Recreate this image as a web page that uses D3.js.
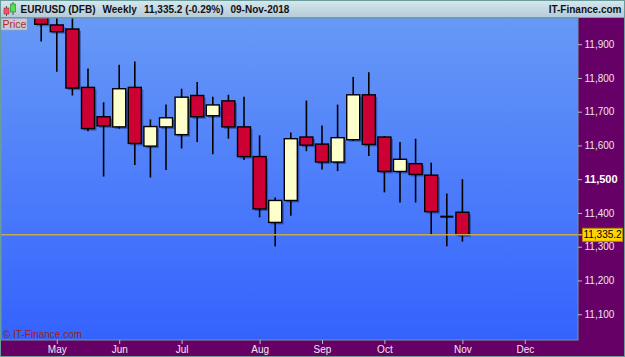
<!DOCTYPE html>
<html><head><meta charset="utf-8">
<script src="https://cdn.jsdelivr.net/npm/d3@7"></script>
<style>
html,body{margin:0;padding:0;background:#660066;}
svg{display:block;font-family:"Liberation Sans",Arial,sans-serif;}
</style></head>
<body>
<svg id="chart" width="625" height="357"></svg>
<script>
// ---- data ----
const weeks = ["2018-04-30","2018-05-07","2018-05-14","2018-05-21","2018-05-28","2018-06-04","2018-06-11","2018-06-18","2018-06-25","2018-07-02","2018-07-09","2018-07-16","2018-07-23","2018-07-30","2018-08-06","2018-08-13","2018-08-20","2018-08-27","2018-09-03","2018-09-10","2018-09-17","2018-09-24","2018-10-01","2018-10-08","2018-10-15","2018-10-22","2018-10-29","2018-11-05"];
const openV  = [11985,11957,11945,11772,11685,11655,11772,11598,11655,11632,11748,11688,11732,11655,11567,11372,11437,11625,11604,11551,11617,11750,11625,11523,11546,11512,11389,11402];
const highV  = [12000,11990,11995,11828,11728,11839,11849,11677,11721,11768,11788,11744,11750,11744,11630,11446,11638,11733,11659,11721,11803,11817,11628,11610,11620,11549,11458,11500];
const lowV   = [11908,11818,11748,11642,11508,11650,11542,11505,11527,11591,11610,11574,11620,11557,11387,11301,11392,11583,11529,11524,11614,11569,11461,11431,11431,11337,11301,11315];
const closeV = [11959,11937,11770,11650,11658,11768,11606,11656,11682,11743,11685,11720,11655,11567,11412,11437,11620,11601,11551,11623,11750,11603,11523,11559,11514,11404,11389,11335.2];
const yTicks = [11100,11200,11300,11400,11500,11600,11700,11800,11900];
const monthLabels = ["May","Jun","Jul","Aug","Sep","Oct","Nov","Dec"];
const lastPrice = 11335.2;
const headerParts = [["EUR/USD (DFB)",20.5],["Weekly",102.5],["11,335.2 (-0.29%)",144],["09-Nov-2018",230.5]];

// ---- layout ----
const L = 1, R = 578, T = 18, B = 340;
const svg = d3.select("#chart");
const defs = svg.append("defs");
const hg = defs.append("linearGradient").attr("id","hg").attr("x1",0).attr("y1",0).attr("x2",0).attr("y2",1);
hg.append("stop").attr("offset","0%").attr("stop-color","#d6e8ef");
hg.append("stop").attr("offset","100%").attr("stop-color","#b4cad6");
const pg = defs.append("linearGradient").attr("id","pg").attr("x1",0).attr("y1",0).attr("x2",0).attr("y2",1);
pg.append("stop").attr("offset","0%").attr("stop-color","#6799f6");
pg.append("stop").attr("offset","100%").attr("stop-color","#3462fe");
defs.append("clipPath").attr("id","clip").append("rect").attr("x",L).attr("y",T).attr("width",R-L).attr("height",B-T);

// background
svg.append("rect").attr("width",625).attr("height",357).attr("fill","#660066");
svg.append("rect").attr("x",0).attr("y",0).attr("width",625).attr("height",T).attr("fill","url(#hg)");
svg.append("line").attr("x1",0).attr("x2",625).attr("y1",T-0.5).attr("y2",T-0.5).attr("stroke","#7f9aa8");
svg.append("rect").attr("x",L).attr("y",T).attr("width",R-L).attr("height",B-T).attr("fill","url(#pg)");

// scales
const x = d3.scaleLinear().domain([-2.577,34.41]).range([L,R]);
const y = d3.scaleLinear().domain([11023.6,11977.6]).range([B,T]);

// weeks extended for axis
const parse = d3.timeParse("%Y-%m-%d");
const start = parse(weeks[0]);
const allWeeks = d3.range(0,35).map(i=>d3.timeDay.offset(start,i*7));
const tickIdx = [];
allWeeks.forEach((d,i)=>{ if(i>0 && d.getMonth()!==allWeeks[i-1].getMonth()) tickIdx.push(i); });
const tickIdxUsed = tickIdx.slice(0, monthLabels.length);

// candles
const data = weeks.map((w,i)=>({i,o:openV[i],h:highV[i],l:lowV[i],c:closeV[i]}));
const g = svg.append("g").attr("clip-path","url(#clip)");
const bw = 13;
g.selectAll("rect.sh").data(data.filter(d=>d.o!==d.c)).join("rect")
  .attr("x",d=>x(d.i)-bw/2+2).attr("y",d=>y(Math.max(d.o,d.c))+2)
  .attr("width",bw).attr("height",d=>Math.max(1,y(Math.min(d.o,d.c))-y(Math.max(d.o,d.c))))
  .attr("fill","rgba(0,0,70,0.35)");
g.selectAll("line.wk").data(data).join("line")
  .attr("x1",d=>x(d.i)).attr("x2",d=>x(d.i)).attr("y1",d=>y(d.h)).attr("y2",d=>y(d.l))
  .attr("stroke","#000").attr("stroke-width",1.6);
g.selectAll("rect.body").data(data.filter(d=>d.o!==d.c)).join("rect")
  .attr("x",d=>x(d.i)-bw/2).attr("y",d=>y(Math.max(d.o,d.c)))
  .attr("width",bw).attr("height",d=>Math.max(1,y(Math.min(d.o,d.c))-y(Math.max(d.o,d.c))))
  .attr("fill",d=>d.c>d.o?"#ffffcc":"#cc0033").attr("stroke","#000").attr("stroke-width",1.4);
g.selectAll("line.doji").data(data.filter(d=>d.o===d.c)).join("line")
  .attr("x1",d=>x(d.i)-bw/2).attr("x2",d=>x(d.i)+bw/2).attr("y1",d=>y(d.o)).attr("y2",d=>y(d.o))
  .attr("stroke","#000").attr("stroke-width",2);

// price line
svg.append("line").attr("x1",L).attr("x2",R+4).attr("y1",y(lastPrice)).attr("y2",y(lastPrice))
  .attr("stroke","#c9a64a").attr("stroke-width",1.5);

// frame of plot
svg.append("rect").attr("x",L).attr("y",T).attr("width",R-L).attr("height",B-T)
  .attr("fill","none").attr("stroke","#6a9c9c").attr("stroke-width",1);

// y axis
const yAxis = svg.append("g").attr("transform",`translate(${R},0)`)
  .call(d3.axisRight(y).tickValues(yTicks).tickSize(4).tickFormat(d3.format(",")));
yAxis.select(".domain").remove();
yAxis.selectAll(".tick line").attr("stroke","#a8c0c0");
yAxis.selectAll(".tick text").attr("x",6.5)
  .attr("font-family","Liberation Sans, Arial, sans-serif")
  .attr("font-weight",d=>d===11500?"bold":"normal").attr("fill",d=>d===11500?"#ffffff":"#eee4ee")
  .attr("font-size",d=>d===11500?"11px":"10px");

// x axis
const xAxis = svg.append("g").attr("transform",`translate(0,${B})`)
  .call(d3.axisBottom(x).tickValues(tickIdxUsed).tickSize(4).tickFormat((d,i)=>monthLabels[i]));
xAxis.select(".domain").remove();
xAxis.selectAll(".tick line").attr("stroke","#a8c0c0");
xAxis.selectAll(".tick text").attr("y",6).attr("fill","#f0e8f0").attr("font-size","10px")
  .attr("font-family","Liberation Sans, Arial, sans-serif");

// last price label
const ly = y(lastPrice);
svg.append("rect").attr("x",582.5).attr("y",ly-6.5).attr("width",40).attr("height",13)
  .attr("fill","#ffd400").attr("stroke","#b88a00").attr("stroke-width",1);
svg.append("text").attr("x",602.5).attr("y",ly).attr("dy","0.35em").attr("text-anchor","middle")
  .attr("font-size","10px").attr("fill","#000").text(d3.format(",.1f")(lastPrice));

// header
const icon = svg.append("g");
icon.append("line").attr("x1",6.5).attr("x2",6.5).attr("y1",6).attr("y2",16).attr("stroke","#555");
icon.append("rect").attr("x",4).attr("y",8).attr("width",5).attr("height",6).attr("fill","#ee5566").attr("stroke","#a03040").attr("stroke-width",0.6);
icon.append("line").attr("x1",13).attr("x2",13).attr("y1",2).attr("y2",15).attr("stroke","#555");
icon.append("rect").attr("x",10.5).attr("y",4).attr("width",5).attr("height",8).attr("fill","#55dd55").attr("stroke","#208020").attr("stroke-width",0.6);
svg.selectAll("text.hdr").data(headerParts).join("text").attr("class","hdr")
  .attr("x",d=>d[1]).attr("y",12.5).attr("font-size","10px").attr("font-weight","bold").attr("fill","#111")
  .text(d=>d[0]);
svg.append("text").attr("x",621.5).attr("y",12.5).attr("text-anchor","end").attr("font-size","10px")
  .attr("font-weight","bold").attr("fill","#111").text("IT-Finance.com");

// Price tag
svg.append("rect").attr("x",1).attr("y",18.5).attr("width",26).attr("height",11.5).attr("fill","#c4ccd6").attr("stroke","#9aa4b0").attr("stroke-width",0.6);
svg.append("text").attr("x",2.5).attr("y",28).attr("font-size","10.5px").attr("fill","#b02a2a").text("Price");

// copyright
svg.append("text").attr("x",3).attr("y",337.5).attr("font-size","10px").attr("fill","#992222").text("© IT-Finance.com");

// outer frame
svg.append("rect").attr("x",0.5).attr("y",0.5).attr("width",624).attr("height",356).attr("fill","none").attr("stroke","#6a9c9c");
</script>
</body></html>
